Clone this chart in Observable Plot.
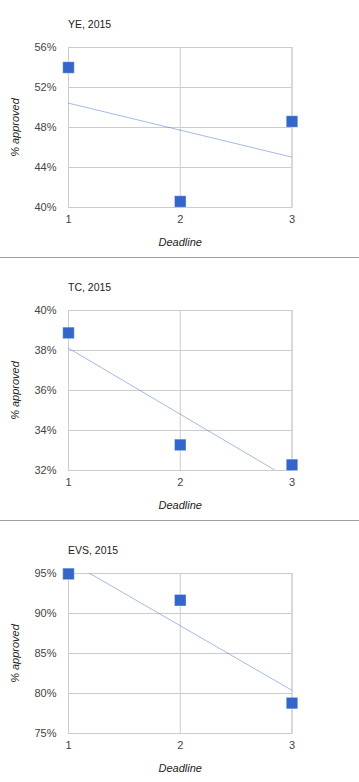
<!DOCTYPE html>
<html><head><meta charset="utf-8">
<script src="https://cdn.jsdelivr.net/npm/d3@7"></script>
<script src="https://cdn.jsdelivr.net/npm/@observablehq/plot@0.6"></script>
<style>
body{margin:0;background:#fff;font-family:"Liberation Sans",Arial,sans-serif;}
.panel{position:relative;width:359px;height:263px;overflow:visible;}
.title{position:absolute;left:68px;top:18px;font-size:10.5px;line-height:12px;color:#222;}
.chart{position:absolute;left:0;top:34px;}
.divider{position:absolute;left:0;top:257px;width:359px;height:1px;background:#9e9e9e;}
svg [aria-label="y-axis label"] text, svg [aria-label="x-axis label"] text{font-style:italic;fill:#222;}
</style>
</head><body>
<div id="root"></div>
<script>
const deadlines = [1, 2, 3];
const titles = ["YE, 2015", "TC, 2015", "EVS, 2015"];
const ye = [54.0, 40.6, 48.6];
const tc = [38.88, 33.28, 32.28];
const evs = [94.95, 91.66, 78.8];
const yDomains = [[40, 56], [32, 40], [75, 95]];
const yTicks = [[40, 44, 48, 52, 56], [32, 34, 36, 38, 40], [75, 80, 85, 90, 95]];
const series = [ye, tc, evs];

const root = document.getElementById("root");
series.forEach((vals, i) => {
  const data = deadlines.map((d, j) => ({deadline: d, pct: vals[j]}));
  const panel = document.createElement("div");
  panel.className = "panel";
  const t = document.createElement("div");
  t.className = "title";
  t.textContent = titles[i];
  panel.appendChild(t);
  const chart = Plot.plot({
    width: 359,
    height: 221,
    marginLeft: 68,
    marginRight: 67.5,
    marginTop: 13,
    marginBottom: 48,
    style: {fontFamily: "'Liberation Sans', Arial, sans-serif", fontSize: "11px", color: "#444", background: "transparent", overflow: "visible"},
    x: {domain: [1, 3]},
    y: {domain: yDomains[i]},
    marks: [
      Plot.gridX(deadlines, {stroke: "#cccccc", strokeOpacity: 1}),
      Plot.gridY(yTicks[i], {stroke: "#cccccc", strokeOpacity: 1}),
      Plot.frame({stroke: "#cccccc"}),
      Plot.axisX(deadlines, {tickSize: 0, tickPadding: 8, tickFormat: d3.format("d"), label: "Deadline", labelAnchor: "center", labelArrow: "none", labelOffset: 38, fill: "#444"}),
      Plot.axisY(yTicks[i], {tickSize: 0, tickPadding: 12, tickFormat: d => d + "%", label: "% approved", labelAnchor: "center", labelArrow: "none", labelOffset: 57, fill: "#444"}),
      Plot.linearRegressionY(data, {x: "deadline", y: "pct", ci: 0, stroke: "#3366cc", strokeOpacity: 0.45, strokeWidth: 1, clip: true}),
      Plot.dot(data, {x: "deadline", y: "pct", symbol: "square", r: 6.5, fill: "#3366cc", stroke: "white", strokeOpacity: 0.35, strokeWidth: 1})
    ]
  });
  chart.classList.add("chart");
  panel.appendChild(chart);
  if (i < series.length - 1) {
    const dv = document.createElement("div");
    dv.className = "divider";
    panel.appendChild(dv);
  }
  root.appendChild(panel);
});
</script>
</body></html>
